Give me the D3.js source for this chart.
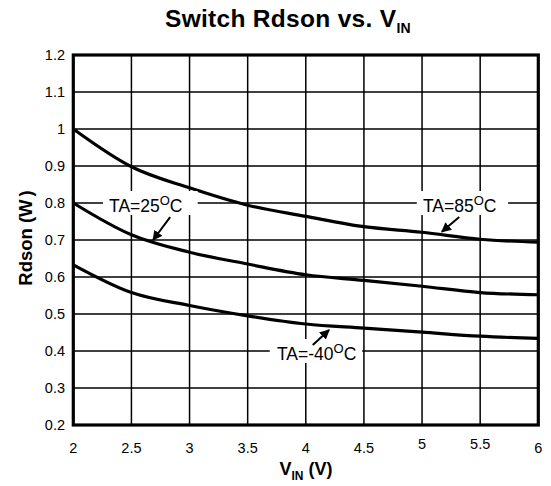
<!DOCTYPE html>
<html>
<head>
<meta charset="utf-8">
<script src="https://cdn.jsdelivr.net/npm/d3@7"></script>
<style>
  body { margin: 0; background: #fff; }
  text { font-family: "Liberation Sans", Arial, sans-serif; fill: #000; }
</style>
</head>
<body>
<script>
(function () {
    'use strict';

    var vin = [2, 2.5, 3, 3.5, 4, 4.5, 5, 5.5, 6];
    var rds85 = [1.0, 0.898, 0.841, 0.794, 0.764, 0.736, 0.721, 0.702, 0.694];
    var rds25 = [0.8, 0.714, 0.667, 0.635, 0.606, 0.591, 0.575, 0.558, 0.552];
    var rdsM40 = [0.633, 0.558, 0.523, 0.495, 0.473, 0.462, 0.451, 0.44, 0.434];
    var xTicks = ['2', '2.5', '3', '3.5', '4', '4.5', '5', '5.5', '6'];
    var yTicks = ['0.2', '0.3', '0.4', '0.5', '0.6', '0.7', '0.8', '0.9', '1', '1.1', '1.2'];

    var W = 551, H = 486;
    var left = 73.3, right = 538.3, top = 55, bottom = 425;

    var svg = d3.select('body')
        .append('svg')
        .attr('width', W)
        .attr('height', H);

    var x = d3.scaleLinear().domain([2, 6]).range([left, right]);
    var y = d3.scaleLinear().domain([0.2, 1.2]).range([bottom, top]);

    // grid
    var grid = svg.append('g');
    grid.selectAll('line.v')
        .data(xTicks)
        .enter()
        .append('line')
        .attr('x1', function (d) { return x(+d); })
        .attr('x2', function (d) { return x(+d); })
        .attr('y1', top)
        .attr('y2', bottom)
        .attr('stroke', '#000')
        .attr('stroke-width', 1.5);
    grid.selectAll('line.h')
        .data(yTicks)
        .enter()
        .append('line')
        .attr('x1', left)
        .attr('x2', right)
        .attr('y1', function (d) { return y(+d); })
        .attr('y2', function (d) { return y(+d); })
        .attr('stroke', '#000')
        .attr('stroke-width', 1.5);

    // curves
    var line = d3.line()
        .x(function (d) { return x(d[0]); })
        .y(function (d) { return y(d[1]); })
        .curve(d3.curveMonotoneX);
    [rds85, rds25, rdsM40].forEach(function (s) {
        svg.append('path')
            .datum(d3.zip(vin, s))
            .attr('d', line)
            .attr('fill', 'none')
            .attr('stroke', '#000')
            .attr('stroke-width', 3.2);
    });

    // frame
    svg.append('rect')
        .attr('x', left)
        .attr('y', top)
        .attr('width', right - left)
        .attr('height', bottom - top)
        .attr('fill', 'none')
        .attr('stroke', '#000')
        .attr('stroke-width', 3.2);

    // tick labels
    svg.selectAll('text.xt')
        .data(xTicks)
        .enter()
        .append('text')
        .attr('x', function (d) { return x(+d); })
        .attr('y', function (d) { return (d === '5' || d === '5.5') ? 449 : 453; })
        .attr('text-anchor', 'middle')
        .style('font-size', '14.5px')
        .text(function (d) { return d; });
    svg.selectAll('text.yt')
        .data(yTicks)
        .enter()
        .append('text')
        .attr('x', 65)
        .attr('y', function (d) { return y(+d) + 5; })
        .attr('text-anchor', 'end')
        .style('font-size', '14.5px')
        .text(function (d) { return d; });

    // titles
    var t = svg.append('text')
        .attr('x', 288)
        .attr('y', 27)
        .attr('text-anchor', 'middle')
        .style('font-size', '24.5px')
        .style('letter-spacing', '0.3px')
        .style('font-weight', 'bold');
    t.append('tspan').text('Switch Rdson vs. V');
    t.append('tspan').attr('dy', 6).style('font-size', '14px').text('IN');

    var xt = svg.append('text')
        .attr('x', 306)
        .attr('y', 475)
        .attr('text-anchor', 'middle')
        .style('font-size', '18px')
        .style('font-weight', 'bold');
    xt.append('tspan').text('V');
    xt.append('tspan').attr('dy', 5).style('font-size', '12px').text('IN');
    xt.append('tspan').attr('dy', -5).text(' (V)');

    var yt = svg.append('text')
        .attr('transform', 'translate(32,238) rotate(-90)')
        .attr('text-anchor', 'middle')
        .style('font-size', '18.5px')
        .style('font-weight', 'bold');
    yt.append('tspan').text('Rdson (W');
    yt.append('tspan').attr('dx', 3).text(')');

    // annotations
    svg.append('defs').append('marker')
        .attr('id', 'ah')
        .attr('viewBox', '0 0 10 10')
        .attr('refX', 9)
        .attr('refY', 5)
        .attr('markerWidth', 5)
        .attr('markerHeight', 5)
        .attr('orient', 'auto')
        .append('path')
        .attr('d', 'M0,0 L10,5 L0,10 Z')
        .attr('fill', '#000');

    var notes = [
        { t: '25', tx: 2.307, ty: 0.8, bx0: 2.255, bx1: 3.07, a: [2.833, 0.762, 2.686, 0.7] },
        { t: '85', tx: 5.008, ty: 0.8, bx0: 4.955, bx1: 5.74, a: [5.32, 0.762, 5.17, 0.722] },
        { t: '-40', tx: 3.752, ty: 0.4, bx0: 3.69, bx1: 4.485, a: [4.06, 0.416, 4.2, 0.457] }
    ];
    notes.forEach(function (n) {
        svg.append('rect')
            .attr('x', x(n.bx0))
            .attr('y', y(n.ty) - 12)
            .attr('width', x(n.bx1) - x(n.bx0))
            .attr('height', 24)
            .attr('fill', '#fff');
        var tt = svg.append('text')
            .attr('x', x(n.tx))
            .attr('y', y(n.ty) + 9)
            .style('font-size', '17.5px');
        tt.append('tspan').text('TA=' + n.t);
        tt.append('tspan').attr('dy', -7).style('font-size', '13px').text('O');
        tt.append('tspan').attr('dy', 7).text('C');
        svg.append('line')
            .attr('x1', x(n.a[0]))
            .attr('y1', y(n.a[1]))
            .attr('x2', x(n.a[2]))
            .attr('y2', y(n.a[3]))
            .attr('stroke', '#000')
            .attr('stroke-width', 2)
            .attr('marker-end', 'url(#ah)');
    });
}());
</script>
</body>
</html>
